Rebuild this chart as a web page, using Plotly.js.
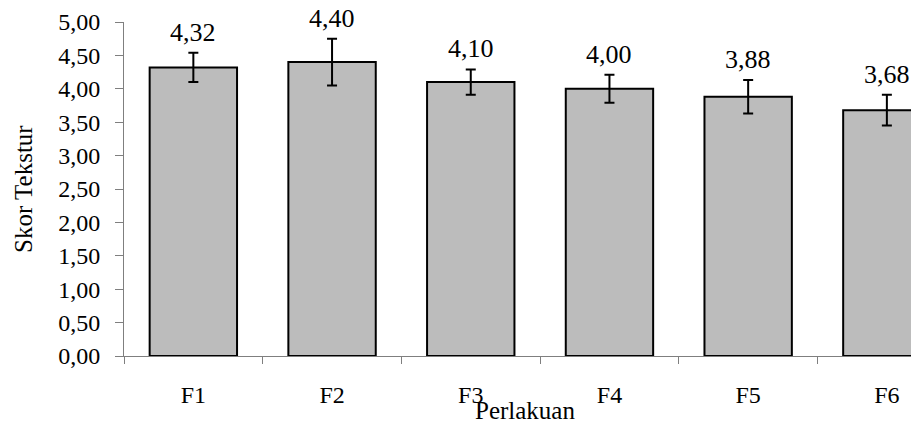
<!DOCTYPE html>
<html>
<head>
<meta charset="utf-8">
<script src="https://cdn.plot.ly/plotly-3.0.1.min.js"></script>
<style>html,body{margin:0;padding:0;background:#fff;}#chart{width:911px;height:422px;}</style>
</head>
<body>
<div id="chart"></div>
<script>
const categories = ["F1", "F2", "F3", "F4", "F5", "F6"];
const scores = [4.32, 4.40, 4.10, 4.00, 3.88, 3.68];
const errors = [0.22, 0.35, 0.19, 0.21, 0.25, 0.23];
const yTicks = [0, 0.5, 1, 1.5, 2, 2.5, 3, 3.5, 4, 4.5, 5];

const fontFam = "Liberation Serif, Times New Roman, serif";
const fmt = v => v.toFixed(2).replace('.', ',');

const trace = {
  type: 'bar',
  x: categories,
  y: scores,
  marker: {color: '#bcbcbc', line: {color: '#000000', width: 2}},
  error_y: {type: 'data', array: errors, visible: true, color: '#000000', thickness: 2, width: 5},
  hoverinfo: 'none'
};

const valueLabels = categories.map((c, i) => ({
  x: c, y: scores[i] + errors[i], xref: 'x', yref: 'y',
  text: fmt(scores[i]), showarrow: false, yanchor: 'bottom', yshift: 4,
  font: {family: fontFam, size: 26, color: '#000'}
}));

const layout = {
  width: 911, height: 422,
  margin: {l: 124, r: 0, t: 22, b: 66},
  paper_bgcolor: '#ffffff', plot_bgcolor: '#ffffff',
  separators: ',.',
  showlegend: false,
  bargap: 0.37,
  font: {family: fontFam, size: 24, color: '#000'},
  xaxis: {
    type: 'category',
    range: [-0.5, 5.174],
    showline: true, linecolor: '#7f7f7f', linewidth: 1,
    ticks: 'outside', tickson: 'boundaries', ticklen: 7, tickcolor: '#7f7f7f',
    ticklabelstandoff: 17,
    showgrid: false, zeroline: false,
    tickfont: {family: fontFam, size: 24, color: '#000'}
  },
  yaxis: {
    range: [0, 5],
    tickvals: yTicks,
    ticktext: yTicks.map(fmt),
    showline: true, linecolor: '#7f7f7f', linewidth: 1,
    ticks: 'outside', ticklen: 8, tickcolor: '#7f7f7f',
    ticklabelstandoff: 10,
    showgrid: false, zeroline: false,
    tickfont: {family: fontFam, size: 24, color: '#000'}
  },
  annotations: valueLabels.concat([
    {text: 'Skor Tekstur', xref: 'paper', yref: 'paper', x: 0, y: 0.5, xshift: -101,
     xanchor: 'center', yanchor: 'middle', textangle: -90, showarrow: false,
     font: {family: fontFam, size: 25, color: '#000'}},
    {text: 'Perlakuan', xref: 'paper', yref: 'paper', x: 0.5095, y: 0, yshift: -54,
     xanchor: 'center', yanchor: 'middle', showarrow: false,
     font: {family: fontFam, size: 25, color: '#000'}}
  ])
};

Plotly.newPlot('chart', [trace], layout, {displayModeBar: false, staticPlot: true});
</script>
</body>
</html>
